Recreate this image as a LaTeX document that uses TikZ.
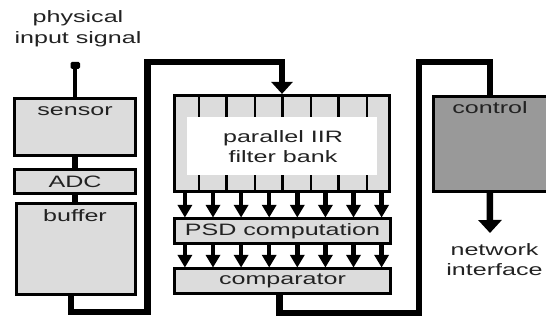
\documentclass[tikz,border=0pt]{standalone}
\usepackage{fontspec}
\setmainfont{Liberation Sans}[FakeStretch=1.52]
\usetikzlibrary{arrows.meta,calc}
\definecolor{boxgray}{HTML}{DCDCDC}
\definecolor{ctrlgray}{HTML}{999999}
\definecolor{txtgray}{HTML}{222222}
\begin{document}
\begin{tikzpicture}[x=1pt,y=-1pt,
  box/.style={draw=black, line width=3.2pt, fill=boxgray, inner sep=0pt},
  lbl/.style={text=txtgray, font=\fontsize{16.5}{18}\selectfont, inner sep=0pt},
  wire/.style={line width=6.5pt, line join=miter},
  stem/.style={line width=4.5pt},
  thinline/.style={line width=1.3pt},
  thickline/.style={line width=3pt}]
\useasboundingbox (0,0) rectangle (546,320);

% left column
\node[box, minimum width=121pt, minimum height=57pt] (sensor) at (75,127) {};
\node[box, minimum width=121pt, minimum height=24pt] (adc) at (75,181.5) {};
\node[box, minimum width=119pt, minimum height=91pt] (buffer) at (76,249) {};
\node[lbl] (sensortxt) at (75,111) {sensor};
\node[lbl] (adctxt) at (75,181.5) {ADC};
\node[lbl] (buffertxt) at (75,216) {buffer};
\draw[line width=6pt] (sensor.south) -- (adc.north);
\draw[line width=6pt] (adc.south) -- ($(buffer.north)+(-1,0)$);

% input signal
\node[lbl, align=center] (phys) at (78,29) {physical\\[3pt]input signal};
\coordinate (inp) at (75,66);
\draw[line width=4.5pt] (inp) -- (sensor.north);
\fill[rounded corners=1.5pt] (70.5,62) rectangle (80,69);

% filter bank
\node[box, minimum width=215pt, minimum height=96pt] (filter) at (282,143.5) {};
\foreach \j/\st in {0/thinline,1/thickline,2/thinline,3/thickline,4/thinline,5/thickline,6/thinline}{
  \draw[\st] ($(filter.north west)+(26+28*\j,1.5)$) -- ($(filter.south west)+(26+28*\j,-1.5)$);
}
\fill[white] (187,117) rectangle (377,175);
\node[lbl, align=center] (filtertxt) at (283,147) {parallel IIR\\[2pt]filter bank};

% PSD and comparator
\node[box, minimum width=216pt, minimum height=25pt] (psd) at (282.5,231) {};
\node[lbl] (psdtxt) at (282.5,231) {PSD computation};
\node[box, minimum width=216pt, minimum height=25pt] (comp) at (282.5,281) {};
\node[lbl] (comptxt) at (282.5,281) {comparator};
\foreach \i in {0,...,7}{
  \pgfmathsetmacro{\dx}{12+28.1*\i}
  \draw[stem] ($(filter.south west)+(\dx,0)$) -- ($(psd.north west)+(\dx,-10)$);
  \fill ($(psd.north west)+(\dx-7.5,-12)$) -- ++(15,0) -- ($(psd.north west)+(\dx,0.5)$) -- cycle;
  \draw[stem] ($(psd.south west)+(\dx,0)$) -- ($(comp.north west)+(\dx,-10)$);
  \fill ($(comp.north west)+(\dx-7.5,-12)$) -- ++(15,0) -- ($(comp.north west)+(\dx,0.5)$) -- cycle;
}

% control
\node[box, fill=ctrlgray, minimum width=166pt, minimum height=95pt] (control) at (516.5,144) {};
\node[lbl] (ctrltxt) at (490,108) {control};
\coordinate (netout) at (490,233);
\draw[line width=6.5pt, -{Triangle[width=23pt 0 0,length=13pt 0 0]}] ($(control.south west)+(58,0)$) -- (netout);
\node[lbl, align=center] (nettxt) at (494.5,260) {network\\[2pt]interface};

% wires
\coordinate (b1) at (147.5,312);
\coordinate (b2) at (147.5,62);
\draw[wire, -{Triangle[width=21pt 0 0,length=12pt 0 0]}] ($(buffer.south)+(-5,0)$) |- (b1) -- (b2) -| (filter.north);
\coordinate (c1) at (419,313);
\coordinate (c2) at (419,62);
\draw[wire] ($(comp.south)+(-3,0)$) |- (c1) -- (c2) -| ($(control.north west)+(58,1.5)$);
\end{tikzpicture}
\end{document}
